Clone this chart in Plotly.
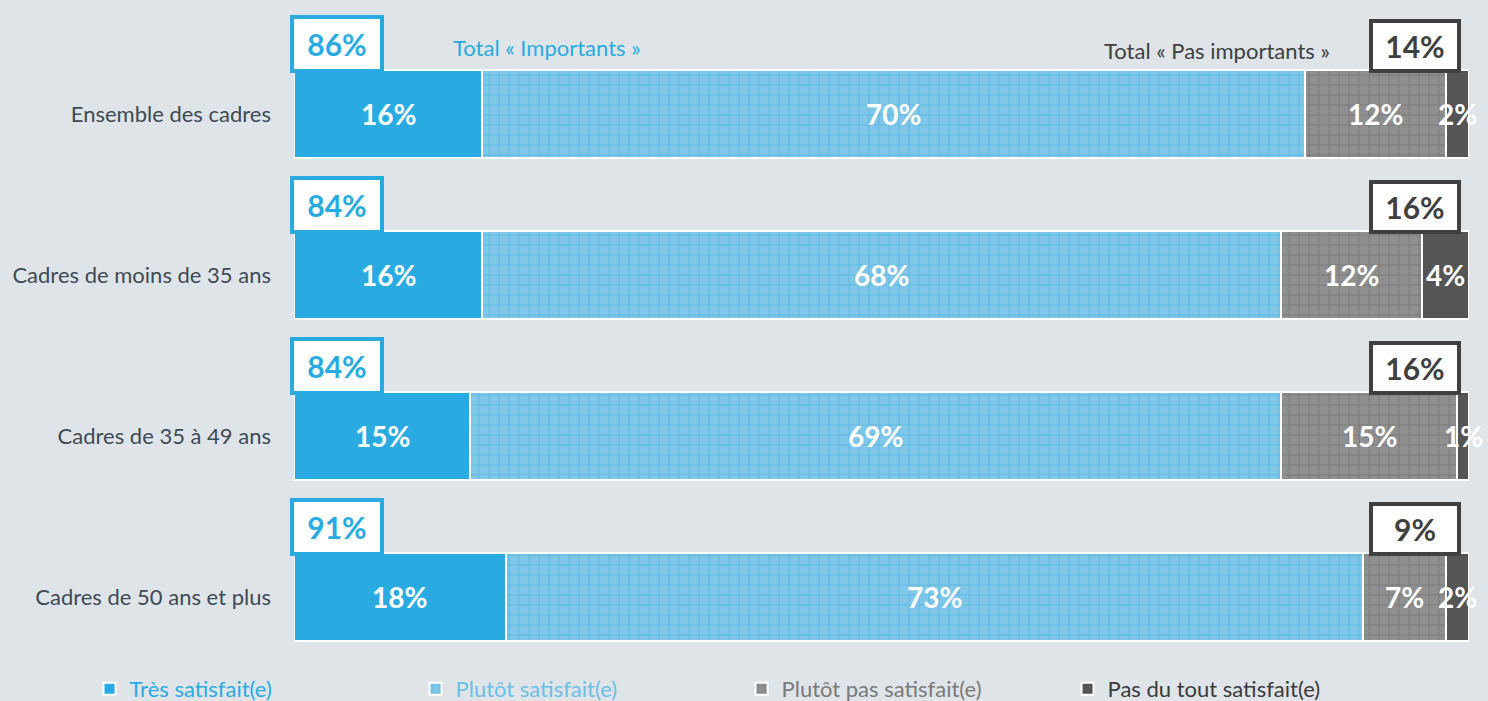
import plotly.graph_objects as go

# donnees
categories = ["Ensemble des cadres", "Cadres de moins de 35 ans",
              "Cadres de 35 à 49 ans", "Cadres de 50 ans et plus"]
tres_satisfait = [16, 16, 15, 18]
plutot_satisfait = [70, 68, 69, 73]
plutot_pas_satisfait = [12, 12, 15, 7]
pas_du_tout = [2, 4, 1, 2]
total_importants = [86, 84, 84, 91]
total_pas_importants = [14, 16, 16, 9]

series = [
    ("Très satisfait(e)", tres_satisfait, "#29abe2", None, "#29abe2"),
    ("Plutôt satisfait(e)", plutot_satisfait, "#80c6e6", "#3aaee2", "#6cc0e6"),
    ("Plutôt pas satisfait(e)", plutot_pas_satisfait, "#8f8f8f", "#686868", "#7a7a7a"),
    ("Pas du tout satisfait(e)", pas_du_tout, "#555555", None, "#3a3a3a"),
]

fig = go.Figure()
for name, vals, col, line_col, txt_col in series:
    marker = dict(color=col, line=dict(color="white", width=2))
    if line_col:
        marker["pattern"] = dict(shape="+", fgcolor=line_col, bgcolor=col, size=10, solidity=0.2)
    fig.add_trace(go.Bar(
        y=categories, x=vals, orientation="h", width=0.55,
        name=f"<span style='color:{txt_col}'>{name}</span>",
        marker=marker, hoverinfo="skip"))

annotations = []
# etiquettes des segments
for i, cat in enumerate(categories):
    start = 0
    for name, vals, col, line_col, txt_col in series:
        v = vals[i]
        annotations.append(dict(x=start + v / 2, y=cat, text=f"<b>{v}%</b>", showarrow=False,
                                font=dict(size=28, color="white")))
        start += v
    # boites des totaux
    annotations.append(dict(x=0, y=cat, xanchor="left", yanchor="bottom", xshift=-4, yshift=41,
                            text=f"<b>{total_importants[i]}%</b>", showarrow=False,
                            font=dict(size=30, color="#29abe2"), bgcolor="white",
                            bordercolor="#29abe2", borderwidth=4, borderpad=2, width=82, height=46))
    annotations.append(dict(x=100, y=cat, xanchor="right", yanchor="bottom", xshift=-8, yshift=41,
                            text=f"<b>{total_pas_importants[i]}%</b>", showarrow=False,
                            font=dict(size=30, color="#404040"), bgcolor="white",
                            bordercolor="#404040", borderwidth=4, borderpad=2, width=80, height=42))

annotations.append(dict(x=13.4, y=categories[0], xanchor="left", yshift=67,
                        text="Total « Importants »", showarrow=False,
                        font=dict(size=22, color="#29abe2")))
annotations.append(dict(x=88.3, y=categories[0], xanchor="right", yshift=64,
                        text="Total « Pas importants »", showarrow=False,
                        font=dict(size=22, color="#404040")))

fig.update_layout(
    barmode="stack", width=1488, height=701,
    paper_bgcolor="#dee4e8", plot_bgcolor="rgba(0,0,0,0)",
    font=dict(family="Lato", size=22, color="#404a55"),
    margin=dict(l=294, r=19, t=10, b=40, autoexpand=False),
    annotations=annotations,
    legend=dict(orientation="h", x=-0.174, xanchor="left", y=-0.043, yanchor="middle",
                entrywidth=281, font=dict(size=22), traceorder="normal",
                bgcolor="rgba(0,0,0,0)"),
)
fig.update_xaxes(range=[0, 100], visible=False)
fig.update_yaxes(categoryorder="array", categoryarray=categories, range=[3.397, -0.646],
                 showgrid=False, zeroline=False, ticks="", ticklabelstandoff=22,
                 tickfont=dict(size=22, color="#404a55"))

fig.write_html("out.html", config={"displayModeBar": False},
               post_script="document.body.style.margin='0';")
